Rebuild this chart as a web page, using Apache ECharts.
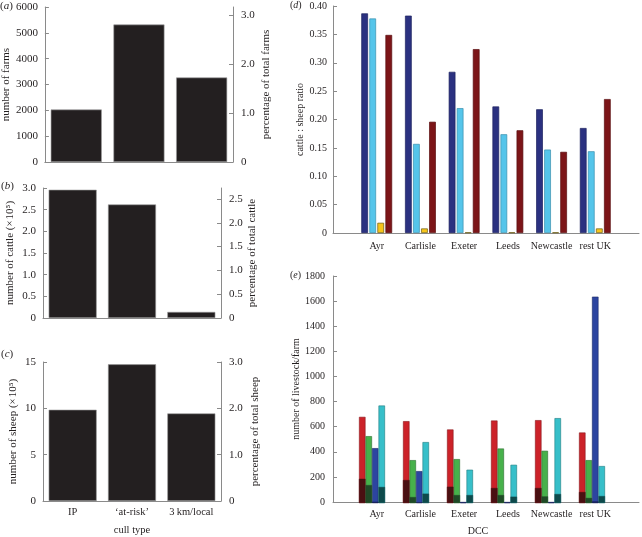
<!DOCTYPE html>
<html><head><meta charset="utf-8">
<script src="https://cdn.jsdelivr.net/npm/echarts@6/dist/echarts.min.js"></script>
<style>html,body{margin:0;padding:0;background:#fff}#c{width:642px;height:537px}</style>
</head><body><div id="c"></div>
<script>
// ---- data ----
const cullTypes = ['IP', '\u2018at-risk\u2019', '3\u2009km/local'];
const farms = [2030, 5320, 3270];
const cattle = [2.96, 2.62, 0.14];      // x 10^5
const sheep = [9.85, 14.75, 9.45];      // x 10^5

const dccs = ['', 'Ayr', 'Carlisle', 'Exeter', 'Leeds', 'Newcastle', 'rest UK', ''];
// panel d: cattle:sheep ratio, four series per DCC
const ratioS1 = [0.387, 0.383, 0.284, 0.223, 0.218, 0.185];
const ratioS2 = [0.378, 0.157, 0.220, 0.174, 0.147, 0.144];
const ratioS3 = [0.018, 0.008, 0.001, 0.001, 0.001, 0.008];
const ratioS4 = [0.349, 0.196, 0.324, 0.181, 0.143, 0.236];
// panel e: livestock per farm (totals and darker lower parts)
const redTotal   = [683, 649, 583, 654, 657, 559];
const redLower   = [192, 182, 129, 119, 119, 87];
const greenTotal = [530, 340, 348, 432, 414, 340];
const greenLower = [142, 47, 63, 63, 52, 40];
const blueTotal  = [435, 253, 8, 8, 8, 1636];
const blueLower  = [10, 5, 4, 4, 4, 13];
const cyanTotal  = [773, 483, 264, 303, 673, 293];
const cyanLower  = [127, 74, 63, 50, 71, 55];

const farmPctTicks = [0, 1, 2, 3];
const cattlePctTicks = [0, 0.5, 1, 1.5, 2, 2.5];
const sheepPctTicks = [0, 1, 2, 3];

// ---- style ----
const FONT = 'Liberation Serif';
const FSL = 11;   // left panels
const FSR = 10;   // right panels
const TXT = '#231f20';
const AX = '#8a8a8a';
const pad = arr => [null].concat(arr, [null]);

const grids = [
  { left: 43, top: 7, width: 190, height: 155 },     // a
  { left: 43, top: 188, width: 178, height: 130 },   // b
  { left: 43, top: 362, width: 178, height: 140 },   // c
  { left: 333, top: 6, width: 308, height: 227 },    // d
  { left: 333, top: 276, width: 308, height: 227 },  // e visible axes
  { left: 328, top: 276, width: 308, height: 227 }   // e bars (shifted group)
];

const axisLine = { show: true, lineStyle: { color: AX, width: 1 } };
const txt = (fs, extra) => Object.assign({ color: TXT, fontFamily: FONT, fontSize: fs }, extra || {});
const plain = v => String(v);

function catX(grid, showLabels, name) {
  return {
    type: 'category', gridIndex: grid, data: cullTypes,
    axisLine: axisLine, axisTick: { show: false },
    axisLabel: txt(10.5, { show: showLabels, margin: 6, interval: 0, hideOverlap: false }),
    name: name || '', nameLocation: 'middle', nameGap: 24, nameTextStyle: txt(10.5)
  };
}
function valY(grid, min, max, interval, name, gap, fmt, fs, margin) {
  return {
    type: 'value', gridIndex: grid, min: min, max: max, interval: interval,
    axisLine: axisLine, axisTick: { show: true, inside: true, length: 4, lineStyle: { color: AX } },
    splitLine: { show: false },
    axisLabel: txt(fs, { margin: margin, formatter: fmt }),
    name: name, nameLocation: 'middle', nameRotate: 90, nameGap: gap, nameTextStyle: txt(fs)
  };
}
function pctY(grid, max, ticks, name, gap, fmt) {
  return {
    type: 'value', gridIndex: grid, position: 'right', min: 0, max: max,
    axisLine: axisLine,
    axisTick: { show: true, inside: true, length: 4, lineStyle: { color: AX }, customValues: ticks },
    splitLine: { show: false },
    axisLabel: txt(FSL, { margin: 8, customValues: ticks, formatter: fmt }),
    name: name, nameLocation: 'middle', nameRotate: 90, nameGap: gap, nameTextStyle: txt(FSL)
  };
}
const oneDec = v => v === 0 ? '0' : v.toFixed(1);
const panelLabel = (letter, left, top, fs) => ({
  type: 'text', left: left, top: top,
  style: { text: '({i|' + letter + '})', fontFamily: FONT, fontSize: fs, fill: TXT,
           rich: { i: { fontStyle: 'italic', fontFamily: FONT, fontSize: fs } } }
});

const option = {
  animation: false,
  backgroundColor: '#fff',
  grid: grids,
  xAxis: [
    catX(0, false),
    catX(1, false),
    catX(2, true, 'cull type'),
    { type: 'category', gridIndex: 3, data: dccs, boundaryGap: false,
      axisLine: axisLine, axisTick: { show: false },
      axisLabel: txt(FSR, { margin: 8, interval: 0, hideOverlap: false }) },
    { type: 'category', gridIndex: 4, data: dccs, boundaryGap: false,
      axisLine: axisLine, axisTick: { show: false },
      axisLabel: txt(FSR, { margin: 7, interval: 0, hideOverlap: false }),
      name: 'DCC', nameLocation: 'middle', nameGap: 24, nameTextStyle: txt(FSR, { padding: [0, 16, 0, 0] }) },
    { type: 'category', gridIndex: 5, data: dccs, boundaryGap: false, show: false },
    { type: 'category', gridIndex: 5, data: dccs, boundaryGap: false, show: false }
  ],
  yAxis: [
    valY(0, 0, 6000, 1000, 'number of farms', 30, plain, FSL, 7),
    valY(1, 0, 3, 0.5, 'number of cattle (\u00d7\u200a10\u2075)', 27, oneDec, FSL, 7),
    valY(2, 0, 15, 5, 'number of sheep (\u00d7\u200a10\u2075)', 24, plain, FSL, 7),
    pctY(0, 3.16, farmPctTicks, 'percentage of total farms', 28, oneDec),
    pctY(1, 2.73, cattlePctTicks, 'percentage of total cattle', 25, oneDec),
    pctY(2, 3.0, sheepPctTicks, 'percentage of total sheep', 29, oneDec),
    valY(3, 0, 0.4, 0.05, 'cattle : sheep ratio', 24, v => v === 0 ? '0' : v.toFixed(2), FSR, 6),
    valY(4, 0, 1800, 200, 'number of livestock/farm', 26, plain, FSR, 8),
    { type: 'value', gridIndex: 5, min: 0, max: 1800, show: false, splitLine: { show: false } }
  ],
  graphic: [
    panelLabel('a', 0, 1, FSL),
    panelLabel('b', 1, 181, FSL),
    panelLabel('c', 1, 349, FSL),
    panelLabel('d', 290, 0, FSR),
    panelLabel('e', 290, 270, FSR)
  ],
  series: []
};

const blackBar = { color: '#231f20', borderColor: '#9a9a9a', borderWidth: 0.6 };
option.series.push(
  { type: 'bar', xAxisIndex: 0, yAxisIndex: 0, data: farms, barWidth: 51, itemStyle: blackBar },
  { type: 'bar', xAxisIndex: 1, yAxisIndex: 1, data: cattle, barWidth: 48, itemStyle: blackBar },
  { type: 'bar', xAxisIndex: 2, yAxisIndex: 2, data: sheep, barWidth: 48, itemStyle: blackBar }
);

const dCols = [
  ['#2b3180', '#1d2260'], ['#55c5ea', '#3a8fae'], ['#f7c51b', '#6a5a10'], ['#7c1518', '#5a0e10']
];
[ratioS1, ratioS2, ratioS3, ratioS4].forEach((arr, i) => {
  option.series.push({
    type: 'bar', xAxisIndex: 3, yAxisIndex: 6, data: pad(arr), barWidth: 6.7, barGap: '20%',
    itemStyle: { color: dCols[i][0], borderColor: dCols[i][1], borderWidth: 0.7 }
  });
});

const eBright = [
  [redTotal, '#cc2229', '#8a1a1e'], [greenTotal, '#47b14b', '#2d6e31'],
  [blueTotal, '#2c45a0', '#1b2a66'], [cyanTotal, '#37bfc9', '#1f7c82']
];
const eDark = [
  [redLower, '#4a1012'], [greenLower, '#1f4a27'], [blueLower, '#19215a'], [cyanLower, '#0e4a4b']
];
eBright.forEach(([arr, c, b]) => {
  option.series.push({
    type: 'bar', xAxisIndex: 5, yAxisIndex: 8, data: pad(arr), barWidth: 6.5, barGap: '0%', z: 2,
    itemStyle: { color: c, borderColor: b, borderWidth: 0.6 }
  });
});
eDark.forEach(([arr, c]) => {
  option.series.push({
    type: 'bar', xAxisIndex: 6, yAxisIndex: 8, data: pad(arr), barWidth: 6.5, barGap: '0%', z: 3,
    itemStyle: { color: c, borderColor: c, borderWidth: 0.4 }
  });
});

const chart = echarts.init(document.getElementById('c'), null, { renderer: 'canvas' });
chart.setOption(option);
</script>
</body></html>
